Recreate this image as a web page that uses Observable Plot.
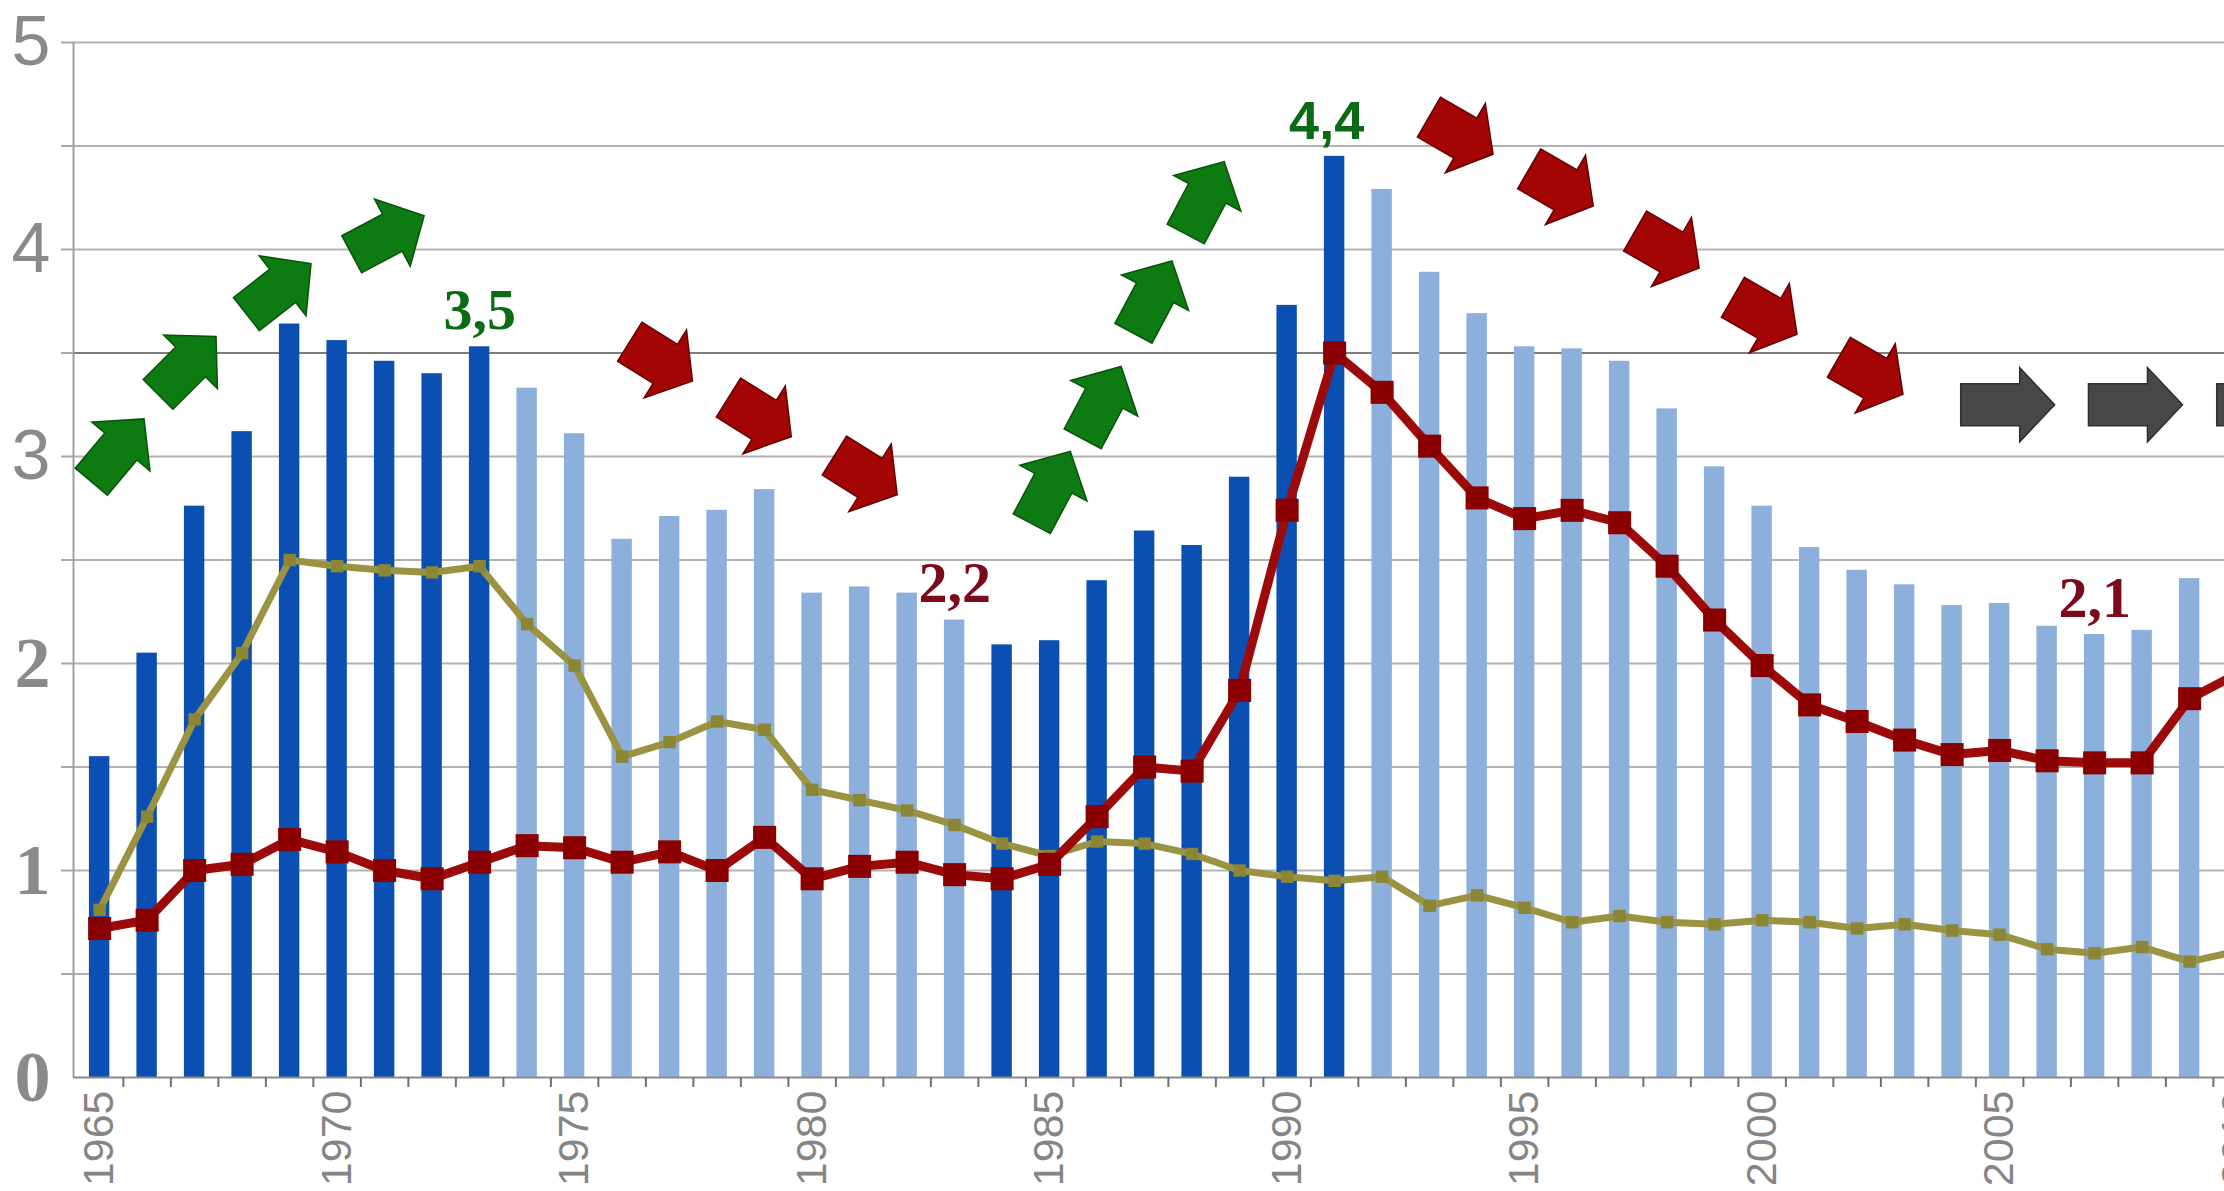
<!DOCTYPE html>
<html>
<head>
<meta charset="utf-8">
<script src="https://cdn.jsdelivr.net/npm/d3@7"></script>
<script src="https://cdn.jsdelivr.net/npm/@observablehq/plot@0.6"></script>
<style>
html, body { margin: 0; padding: 0; background: #fff; overflow: hidden; }
#chart svg { display: block; max-width: none !important; }
</style>
</head>
<body>
<div id="chart"></div>
<script>
// ---- data ----
const years = [1965,1966,1967,1968,1969,1970,1971,1972,1973,1974,1975,1976,1977,1978,1979,1980,1981,1982,1983,1984,1985,1986,1987,1988,1989,1990,1991,1992,1993,1994,1995,1996,1997,1998,1999,2000,2001,2002,2003,2004,2005,2006,2007,2008,2009,2010];
const barValues = [1.55,2.05,2.76,3.12,3.64,3.56,3.46,3.40,3.53,3.33,3.11,2.60,2.71,2.74,2.84,2.34,2.37,2.34,2.21,2.09,2.11,2.40,2.64,2.57,2.90,3.73,4.45,4.29,3.89,3.69,3.53,3.52,3.46,3.23,2.95,2.76,2.56,2.45,2.38,2.28,2.29,2.18,2.14,2.16,2.41,2.50];
const redValues = [0.72,0.76,1.00,1.03,1.15,1.09,1.00,0.96,1.04,1.12,1.11,1.04,1.09,1.00,1.16,0.96,1.02,1.04,0.98,0.96,1.03,1.26,1.50,1.48,1.87,2.74,3.50,3.31,3.05,2.80,2.70,2.74,2.68,2.47,2.21,1.99,1.80,1.72,1.63,1.56,1.58,1.53,1.52,1.52,1.83,1.95];
const oliveValues = [0.81,1.26,1.73,2.05,2.50,2.47,2.45,2.44,2.47,2.19,1.99,1.55,1.62,1.72,1.68,1.39,1.34,1.29,1.22,1.13,1.07,1.14,1.13,1.08,1.00,0.97,0.95,0.97,0.83,0.88,0.82,0.75,0.78,0.75,0.74,0.76,0.75,0.72,0.74,0.71,0.69,0.62,0.60,0.63,0.56,0.61];
const risingYears = [1965,1966,1967,1968,1969,1970,1971,1972,1973,1984,1985,1986,1987,1988,1989,1990,1991];

const yGridTicks = [0.5,1,1.5,2,2.5,3,3.5,4,4.5,5];
const yLabelsSans = [3,4,5];
const yLabelsSerif = [0,1,2];
const xLabelYears = [1965,1970,1975,1980,1985,1990,1995,2000,2005,2010];

const noteYears = [1973,1983,1991,2007];
const noteTexts = ["3,5","2,2","4,4","2,1"];
const noteKinds = ["up","down","upSans","down"];

// arrow annotations: position (year, value), direction (degrees, screen), kind
const arrowX = [1965.38,1966.84,1968.77,1971.07, 1985.03,1986.10,1987.17,1988.27, 1976.82,1978.90,1981.13, 1993.66,1995.77,1998.00,2000.06,2002.29, 2005.17,2007.86,2010.56];
const arrowY = [3.03,3.44,3.81,4.07, 2.85,3.26,3.77,4.25, 3.46,3.19,2.91, 4.55,4.30,4.00,3.68,3.39, 3.25,3.25,3.25];
const arrowAngle = [-50,-45,-38,-28, -62,-62,-62,-62, 32,32,32, 30,30,30,30,30, 0,0,0];
const arrowKind = ["up","up","up","up", "up","up","up","up", "down","down","down", "down","down","down","down","down", "flat","flat","flat"];

// ---- tables ----
const rows = years.map((year, i) => ({year, bar: barValues[i], red: redValues[i], olive: oliveValues[i], rising: risingYears.includes(year)}));
const notes = noteYears.map((year, i) => ({year, value: barValues[years.indexOf(year)], text: noteTexts[i], kind: noteKinds[i]}));
const arrows = arrowX.map((x, i) => ({x, y: arrowY[i], angle: arrowAngle[i], kind: arrowKind[i]}));
const xMinorTicks = years.map(y => y + 0.5);

// ---- styles ----
const W = 2300, H = 1191, ML = 73, PX_PER_YEAR = 47.5;
const xDomain = [1964.45, 1964.45 + (W - ML) / PX_PER_YEAR];
const arrowFill = {up: "#0d7a12", down: "#a30505", flat: "#474747"};
const arrowEdge = {up: "#07530b", down: "#650000", flat: "#2e2e2e"};
const arrowShape = {
  up:   {L: 82, t: 21, w: 38, h: 36},
  down: {L: 74, t: 23, w: 40, h: 32},
  flat: {L: 94, t: 21, w: 37, h: 35}
};
function arrowSymbol(angleDeg, s) {
  const a = angleDeg * Math.PI / 180, c = Math.cos(a), n = Math.sin(a);
  const hl = s.L / 2;
  const pts = [[-hl, -s.t], [hl - s.h, -s.t], [hl - s.h, -s.w], [hl, 0], [hl - s.h, s.w], [hl - s.h, s.t], [-hl, s.t]];
  return {
    draw(ctx) {
      pts.forEach(([x, y], i) => {
        const X = x * c - y * n, Y = x * n + y * c;
        if (i === 0) ctx.moveTo(X, Y); else ctx.lineTo(X, Y);
      });
      ctx.closePath();
    }
  };
}

const grey = "#8a8a8a";

const chart = Plot.plot({
  width: W,
  height: H,
  marginLeft: ML,
  marginRight: 0,
  marginTop: 42,
  marginBottom: H - 1077,
  x: {domain: xDomain, axis: null},
  y: {domain: [0, 5], axis: null},
  style: {background: "#fff", overflow: "visible", maxWidth: "none"},
  marks: [
    Plot.ruleY(yGridTicks, {y: d => d, stroke: d => d === 3.5 ? "#7d7d7d" : "#b2b2b2", strokeWidth: 2.2}),
    Plot.axisY(yGridTicks, {tickSize: 12, tickFormat: () => "", stroke: "#a8a8a8", strokeWidth: 2}),
    Plot.axisY(yLabelsSans, {tickSize: 0, tickPadding: 23, fontSize: 70, fontFamily: "Liberation Sans, Arial, sans-serif", color: grey, tickFormat: d => String(d)}),
    Plot.axisY(yLabelsSerif, {tickSize: 0, tickPadding: 23, fontSize: 72, fontWeight: "bold", fontFamily: "Liberation Serif, Times New Roman, serif", color: grey, tickFormat: d => String(d)}),

    Plot.rectY(rows, {x1: d => d.year - 0.215, x2: d => d.year + 0.215, y1: 0, y2: "bar", fill: d => d.rising ? "#0b4fb3" : "#8cafdc"}),

    Plot.ruleX([xDomain[0]], {stroke: "#a0a0a0", strokeWidth: 2}),
    Plot.ruleY([0], {stroke: "#8a8a8a", strokeWidth: 2}),
    Plot.axisX(xMinorTicks, {tickSize: 10, tickFormat: () => "", stroke: "#707070", strokeWidth: 2}),
    Plot.axisX(xLabelYears, {tickSize: 0, tickPadding: 13, tickRotate: -90, fontSize: 43, fontFamily: "Liberation Sans, Arial, sans-serif", color: "#858585", tickFormat: d => String(d)}),

    Plot.line(rows, {x: "year", y: "olive", stroke: "#9a9442", strokeWidth: 7}),
    Plot.dot(rows, {x: "year", y: "olive", symbol: "square", r: 7, fill: "#8b8536"}),
    Plot.line(rows, {x: "year", y: "red", stroke: "#9c0a0a", strokeWidth: 9}),
    Plot.dot(rows, {x: "year", y: "red", symbol: "square", r: 13, fill: "#8a0000"}),

    ...arrows.map(a => Plot.dot([a], {x: "x", y: "y", r: 10, symbol: arrowSymbol(a.angle, arrowShape[a.kind]), fill: arrowFill[a.kind], stroke: arrowEdge[a.kind], strokeWidth: 1.5})),

    Plot.text(notes.filter(d => d.kind !== "upSans"), {
      x: "year", y: "value", text: "text", lineAnchor: "bottom", dy: -18,
      fill: d => d.kind === "up" ? "#0b6a14" : "#7a0a1c",
      fontSize: 58, fontWeight: "bold",
      fontFamily: "Liberation Serif, Times New Roman, serif"
    }),
    Plot.text(notes.filter(d => d.kind === "upSans"), {
      x: "year", y: "value", text: "text", lineAnchor: "bottom", dy: -17, dx: -8,
      fill: "#0b6a14",
      fontSize: 54, fontWeight: "bold",
      fontFamily: "Liberation Sans, Arial, sans-serif"
    })
  ]
});

document.getElementById("chart").appendChild(chart);
</script>
</body>
</html>
